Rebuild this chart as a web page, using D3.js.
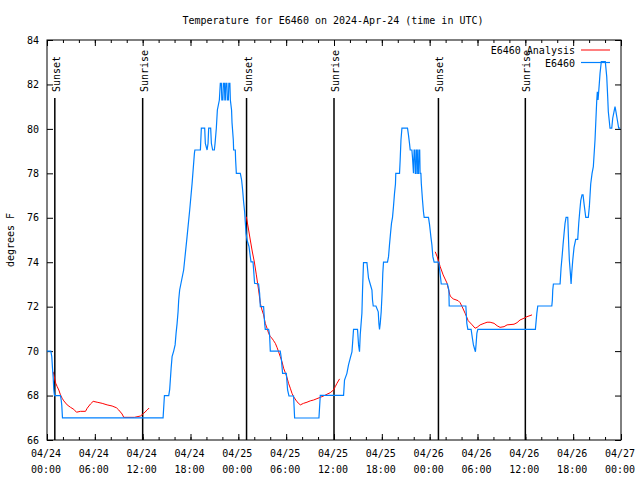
<!DOCTYPE html>
<html><head><meta charset="utf-8">
<script src="https://cdn.jsdelivr.net/npm/d3@7"></script>
<style>
body{margin:0;background:#fff}
svg{display:block}
text{font-family:"DejaVu Sans Mono",monospace;font-size:10px;fill:#000}
</style>
</head><body><svg id="c" width="640" height="480"></svg>
<script>
// ---- data ----
const titleText = "Temperature for E6460 on 2024-Apr-24 (time in UTC)";
const yLabelText = "degrees F";
const startUTC = Date.UTC(2024, 3, 24, 0, 0);
const endUTC = Date.UTC(2024, 3, 27, 0, 0);
const yTicks = [66, 68, 70, 72, 74, 76, 78, 80, 82, 84];
const seriesNames = ["E6460 Analysis", "E6460"];
const sunsetHours = [0.98, 25.03, 49.1];
const sunriseHours = [12.0, 36.0, 60.0];
// observations: [hours since 04/24 00:00 UTC, temperature F]
const obsSeries = [
[0,70.0],[0.48,70.0],[0.6,69.75],[0.69,69.23],[0.78,68.78],[0.85,68.28],[0.94,68.0],[1.69,68.0],[1.78,67.8],[1.85,67.58],[1.94,67.0],
[14.56,67.0],[14.73,68.0],[15.27,68.0],[15.39,68.28],[15.57,69.23],[15.69,69.75],[15.89,70.0],[16.07,70.28],[16.19,70.8],[16.32,71.25],[16.44,71.77],[16.52,72.3],[16.64,72.75],[17.14,73.65],[17.57,75.15],[17.9,76.35],[18.2,77.55],[18.49,78.9],[18.55,79.05],[19.24,79.05],[19.36,80.03],[19.78,80.03],[19.86,79.35],[20.08,79.05],[20.2,79.35],[20.28,80.03],[20.53,80.03],[20.62,79.35],[20.78,79.05],[20.99,79.05],[21.08,79.35],[21.24,80.03],[21.37,80.85],[21.62,81.3],[21.74,82.05],[21.87,82.05],[21.93,81.3],[22.06,81.3],[22.12,82.05],[22.25,82.05],[22.31,81.3],[22.37,81.3],[22.43,82.05],[22.56,82.05],[22.62,81.3],[22.75,81.3],[22.81,82.05],[22.94,82.05],[23.0,81.3],[23.15,80.85],[23.21,80.27],[23.37,79.5],[23.41,79.05],[23.62,79.05],[23.66,78.6],[23.75,78.0],[24.25,78.0],[24.41,77.7],[24.54,77.25],[24.66,76.72],[24.79,76.27],[24.87,75.82],[24.97,75.3],[25.09,75.0],[25.34,74.7],[25.5,74.25],[25.59,74.02],[25.84,74.02],[25.92,73.65],[26.04,73.05],[26.54,73.02],[26.67,72.6],[26.76,72.0],[27.17,72.0],[27.3,71.25],[27.38,70.98],[27.8,70.98],[27.92,70.73],[28.01,70.0],[29.26,70.0],[29.39,69.68],[29.55,69.0],[30.02,69.0],[30.18,68.25],[30.35,67.98],[30.93,67.98],[31.06,66.99],[34.11,66.99],[34.28,68.01],[37.2,68.01],[37.32,68.7],[37.62,69.0],[37.82,69.38],[38.04,69.68],[38.25,69.97],[38.33,70.35],[38.45,70.98],[38.95,70.98],[39.08,70.28],[39.2,69.97],[39.29,70.73],[39.5,71.7],[39.58,72.75],[39.7,73.98],[40.13,73.98],[40.33,73.28],[40.54,73.02],[40.76,72.75],[40.83,72.3],[40.92,72.03],[41.26,72.03],[41.55,71.77],[41.63,71.25],[41.71,70.98],[41.8,71.25],[41.92,71.77],[42.05,72.75],[42.12,73.5],[42.21,74.0],[42.71,74.0],[42.84,74.25],[42.96,74.78],[43.09,75.3],[43.21,75.75],[43.34,76.02],[43.46,76.5],[43.59,77.1],[43.71,77.52],[43.75,78.0],[44.22,78.0],[44.3,78.6],[44.4,79.5],[44.52,80.03],[45.22,80.03],[45.34,79.73],[45.47,79.35],[45.56,79.05],[45.77,79.05],[45.84,78.75],[45.97,78.0],[46.05,79.05],[46.15,79.05],[46.2,78.0],[46.3,78.0],[46.35,79.05],[46.45,79.05],[46.5,78.0],[46.6,78.0],[46.65,79.05],[46.75,79.05],[46.8,78.0],[46.9,78.0],[46.95,77.55],[47.1,76.8],[47.22,76.27],[47.31,76.02],[47.85,76.02],[47.98,75.7],[48.06,75.45],[48.15,75.15],[48.28,74.78],[48.4,74.25],[48.56,74.0],[49.15,74.0],[49.23,73.73],[49.4,73.2],[49.45,73.02],[50.23,73.02],[50.41,72.75],[50.45,72.03],[52.54,72.03],[52.66,71.25],[52.79,70.98],[53.2,70.98],[53.36,70.58],[53.49,70.28],[53.61,70.13],[53.74,69.97],[53.83,70.35],[53.92,70.8],[54.04,70.98],[61.26,70.98],[61.44,71.7],[61.56,72.03],[63.32,72.03],[63.39,72.3],[63.44,72.75],[63.52,73.02],[64.36,73.02],[64.48,73.73],[64.61,74.25],[64.73,74.78],[64.86,75.3],[64.98,75.75],[65.11,76.02],[65.32,76.02],[65.45,74.7],[65.52,74.1],[65.65,73.5],[65.74,73.02],[65.82,73.5],[65.95,74.1],[66.11,74.67],[66.32,75.03],[66.57,75.03],[66.7,75.75],[66.82,76.27],[66.95,76.77],[67.11,77.03],[67.24,77.03],[67.36,76.65],[67.49,76.27],[67.58,76.02],[67.9,76.02],[68.03,76.5],[68.2,77.52],[68.37,78.0],[68.53,78.3],[68.74,79.5],[68.95,81.22],[69.03,81.67],[69.12,81.3],[69.2,81.67],[69.28,82.05],[69.37,82.5],[69.53,83.03],[70.03,83.03],[70.21,82.35],[70.33,81.45],[70.41,80.77],[70.54,80.32],[70.62,80.03],[70.84,80.03],[70.96,80.48],[71.12,80.77],[71.25,81.0],[71.37,80.77],[71.54,80.4],[71.71,80.03],[71.9,80.03]
];
// analysis runs: [hours, temperature F]
const analysisRun1 = [[0.78,69.07],[0.94,68.78],[1.1,68.55],[1.28,68.4],[1.48,68.25],[1.69,68.03],[1.9,67.88],[2.11,67.76],[2.53,67.58],[2.95,67.47],[3.36,67.38],[3.7,67.25],[4.2,67.29],[4.83,67.29],[5.04,67.43],[5.45,67.62],[5.79,67.74],[6.29,67.7],[6.92,67.65],[7.54,67.58],[8.17,67.53],[8.71,67.45],[9.0,67.35],[9.42,67.17],[9.63,67.02],[10.97,67.02],[11.72,67.08],[12.13,67.2],[12.56,67.35],[12.81,67.44]];
const analysisRun2 = [[25.0,76.05],[25.25,75.54],[25.5,75.0],[25.76,74.46],[26.01,74.01],[26.26,73.43],[26.54,72.75],[26.76,72.15],[26.97,71.85],[27.17,71.63],[27.38,71.25],[27.6,71.03],[27.8,70.8],[28.01,70.65],[28.22,70.58],[28.42,70.47],[28.64,70.35],[28.85,70.17],[29.05,69.97],[29.26,69.75],[29.48,69.52],[29.68,69.23],[29.89,69.03],[30.1,68.82],[30.3,68.55],[30.52,68.33],[30.73,68.1],[30.93,67.95],[31.36,67.72],[31.77,67.58],[32.18,67.65],[32.61,67.7],[33.02,67.76],[33.44,67.8],[33.86,67.86],[34.28,67.92],[34.69,67.98],[35.12,68.06],[35.53,68.13],[35.94,68.25],[36.16,68.4],[36.37,68.55],[36.7,68.75]];
const analysisRun3 = [[48.7,74.47],[48.95,74.24],[49.32,73.8],[49.69,73.43],[50.16,73.07],[50.38,72.75],[50.57,72.48],[50.95,72.35],[51.57,72.27],[51.82,72.18],[52.07,72.0],[52.45,71.7],[52.83,71.37],[53.33,71.18],[53.7,71.03],[53.95,71.07],[54.33,71.18],[54.83,71.25],[55.2,71.3],[55.58,71.3],[56.08,71.25],[56.46,71.14],[56.83,71.07],[57.33,71.1],[57.71,71.18],[58.58,71.21],[58.96,71.28],[59.33,71.4],[59.83,71.48],[60.21,71.55],[60.84,71.63]];

// ---- layout ----
const M = {left: 47, right: 621, top: 40, bottom: 440};
const H = 3600 * 1000;
const toDate = h => new Date(startUTC + h * H);

const svg = d3.select("#c");
const x = d3.scaleUtc().domain([new Date(startUTC), new Date(endUTC)]).range([M.left, M.right]);
const y = d3.scaleLinear().domain([66, 84]).range([M.bottom, M.top]);

const majorTicks = d3.utcHour.every(6).range(new Date(startUTC), new Date(endUTC + 1));
const minorTicks = d3.utcHour.every(2).range(new Date(startUTC), new Date(endUTC + 1));

svg.append("defs").append("clipPath").attr("id", "clip")
  .append("rect").attr("x", M.left).attr("y", M.top)
  .attr("width", M.right - M.left).attr("height", M.bottom - M.top);

// axes (ticks inward)
function styleAxis(g) {
  g.select(".domain").remove();
  g.selectAll("line").attr("stroke", "#000").attr("stroke-width", 1);
}
svg.append("g").attr("transform", `translate(0,${M.bottom})`)
  .call(d3.axisBottom(x).tickValues(minorTicks).tickSize(-3).tickFormat(""))
  .call(styleAxis);
svg.append("g").attr("transform", `translate(0,${M.bottom})`)
  .call(d3.axisBottom(x).tickValues(majorTicks).tickSize(-6).tickFormat(""))
  .call(styleAxis);
svg.append("g").attr("transform", `translate(0,${M.top})`)
  .call(d3.axisTop(x).tickValues(minorTicks).tickSize(-3).tickFormat(""))
  .call(styleAxis);
svg.append("g").attr("transform", `translate(0,${M.top})`)
  .call(d3.axisTop(x).tickValues(majorTicks).tickSize(-6).tickFormat(""))
  .call(styleAxis);
svg.append("g").attr("transform", `translate(${M.left},0)`)
  .call(d3.axisLeft(y).tickValues(yTicks).tickSize(-6).tickPadding(8).tickFormat(d3.format("d")))
  .call(styleAxis)
  .call(g => g.selectAll("text").attr("font-size", null).attr("font-family", null));
svg.append("g").attr("transform", `translate(${M.right},0)`)
  .call(d3.axisRight(y).tickValues(yTicks).tickSize(-6).tickFormat(""))
  .call(styleAxis);

// x tick labels (two lines)
const fmtD = d3.utcFormat("%m/%d"), fmtT = d3.utcFormat("%H:%M");
const xl = svg.append("g");
majorTicks.forEach(d => {
  const t = xl.append("text").attr("text-anchor", "middle").attr("x", x(d) - 1);
  t.append("tspan").attr("x", x(d) - 1).attr("y", 457).text(fmtD(d));
  t.append("tspan").attr("x", x(d) - 1).attr("y", 473).text(fmtT(d));
});

// frame
svg.append("rect").attr("x", M.left).attr("y", M.top)
  .attr("width", M.right - M.left).attr("height", M.bottom - M.top)
  .attr("fill", "none").attr("stroke", "#000").attr("stroke-width", 1);

// title and y label
svg.append("text").attr("x", 333).attr("y", 24).attr("text-anchor", "middle").text(titleText);
svg.append("text").attr("transform", "translate(14,240) rotate(-90)").attr("text-anchor", "middle").text(yLabelText);

// sun lines
const sunEvents = sunsetHours.map(h => ({h, label: "Sunset"}))
  .concat(sunriseHours.map(h => ({h, label: "Sunrise"})));
const sg = svg.append("g");
sunEvents.forEach(e => {
  const xx = x(toDate(e.h));
  sg.append("line").attr("x1", xx).attr("x2", xx).attr("y1", 98).attr("y2", M.bottom)
    .attr("stroke", "#000").attr("stroke-width", 1.5);
  sg.append("text").attr("transform", `translate(${xx + 5},92) rotate(-90)`).text(e.label);
});

// data lines
const line = d3.line().x(d => x(toDate(d[0]))).y(d => y(d[1]));
const dg = svg.append("g").attr("clip-path", "url(#clip)");
[analysisRun1, analysisRun2, analysisRun3].forEach(run => {
  dg.append("path").datum(run).attr("d", line)
    .attr("fill", "none").attr("stroke", "#ff0000").attr("stroke-width", 1);
});
dg.append("path").datum(obsSeries).attr("d", line)
  .attr("fill", "none").attr("stroke", "#0080ff").attr("stroke-width", 1.2);

// legend
const legColors = ["#ff0000", "#0080ff"];
seriesNames.forEach((name, i) => {
  const ly = 50 + i * 12.5;
  svg.append("text").attr("x", 575).attr("y", ly + 4).attr("text-anchor", "end").text(name);
  svg.append("line").attr("x1", 581).attr("x2", 610).attr("y1", ly).attr("y2", ly)
    .attr("stroke", legColors[i]).attr("stroke-width", i ? 1.2 : 1);
});
</script>
</body></html>
